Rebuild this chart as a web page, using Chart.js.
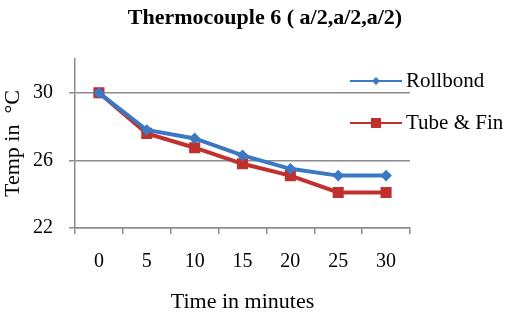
<!DOCTYPE html>
<html>
<head>
<meta charset="utf-8">
<script src="https://cdn.jsdelivr.net/npm/chart.js@4"></script>
<style>
  html, body { margin: 0; padding: 0; background: #fff; }
  #wrap { width: 512px; height: 316px; }
</style>
</head>
<body>
<div id="wrap"><canvas id="tcChart" width="512" height="316"></canvas></div>
<script>
const times = ["0", "5", "10", "15", "20", "25", "30"];
const rollbond = [30, 27.8, 27.3, 26.3, 25.5, 25.1, 25.1];
const tubeFin = [30, 27.6, 26.75, 25.8, 25.1, 24.1, 24.1];
const yTicks = [22, 26, 30];

const serif = "'Liberation Serif', 'Times New Roman', serif";

// legend drawn over the right part of the plot, like the original
const sideLegend = {
  id: "sideLegend",
  afterDatasetsDraw(chart) {
    const ctx = chart.ctx;
    ctx.save();
    chart.data.datasets.forEach((ds, i) => {
      const y = 81 + 42 * i;
      ctx.strokeStyle = ds.borderColor;
      ctx.lineWidth = 2;
      ctx.beginPath();
      ctx.moveTo(350, y);
      ctx.lineTo(402, y);
      ctx.stroke();
      ctx.fillStyle = ds.borderColor;
      if (ds.pointStyle === "rect") {
        ctx.fillRect(371, y - 5, 10, 10);
      } else {
        ctx.beginPath();
        ctx.moveTo(376, y - 4);
        ctx.lineTo(380, y);
        ctx.lineTo(376, y + 4);
        ctx.lineTo(372, y);
        ctx.closePath();
        ctx.fill();
      }
      ctx.fillStyle = "#000";
      ctx.font = "21px " + serif;
      ctx.textBaseline = "middle";
      ctx.fillText(ds.label, 406, y);
    });
    ctx.restore();
  },
};

new Chart(document.getElementById("tcChart"), {
  type: "line",
  data: {
    labels: times,
    datasets: [
      {
        label: "Rollbond",
        data: rollbond,
        borderColor: "#3A78C4",
        backgroundColor: "#3A78C4",
        borderWidth: 4,
        pointStyle: "rectRot",
        pointRadius: 3,
        tension: 0,
      },
      {
        label: "Tube & Fin",
        data: tubeFin,
        borderColor: "#C0302E",
        backgroundColor: "#C0302E",
        borderWidth: 4,
        pointStyle: "rect",
        pointRadius: 5,
        tension: 0,
      },
    ],
  },
  options: {
    responsive: false,
    animation: false,
    layout: { padding: { left: 18, right: 0, top: 0, bottom: 0 } },
    plugins: {
      legend: { display: false },
      tooltip: { enabled: false },
      title: {
        display: true,
        text: "Thermocouple 6 ( a/2,a/2,a/2)",
        color: "#000",
        font: { family: serif, size: 22, weight: "bold" },
        padding: { top: 4.8, bottom: 27.8 },
      },
    },
    scales: {
      x: {
        offset: true,
        grid: { drawOnChartArea: false, offset: true, tickLength: 6, color: "#8c8c8c", lineWidth: 1.5 },
        border: { color: "#8c8c8c", width: 1.5 },
        ticks: { color: "#000", padding: 16, font: { family: serif, size: 20 }, maxRotation: 0 },
        title: {
          display: true,
          text: "Time in minutes",
          color: "#000",
          font: { family: serif, size: 22 },
          padding: { top: 0, bottom: 1 },
        },
        afterFit(scale) { scale.height = 88; },
      },
      y: {
        min: 22,
        max: 32,
        grid: { tickLength: 6, color: "#8c8c8c", lineWidth: 1.5 },
        border: { color: "#8c8c8c", width: 1.5 },
        ticks: { stepSize: 4, color: "#000", padding: 16, font: { family: serif, size: 20 } },
        afterBuildTicks(scale) { scale.ticks = yTicks.map(v => ({ value: v })); },
        title: {
          display: true,
          text: "Temp in  °C",
          color: "#000",
          font: { family: serif, size: 22 },
          padding: { top: -18, bottom: 0 },
        },
        afterFit(scale) { scale.width = 57; },
      },
      yRight: {
        position: "right",
        display: true,
        grid: { display: false },
        border: { display: false },
        ticks: { display: false },
        afterFit(scale) { scale.width = 102; },
      },
    },
  },
  plugins: [sideLegend],
});
</script>
</body>
</html>
